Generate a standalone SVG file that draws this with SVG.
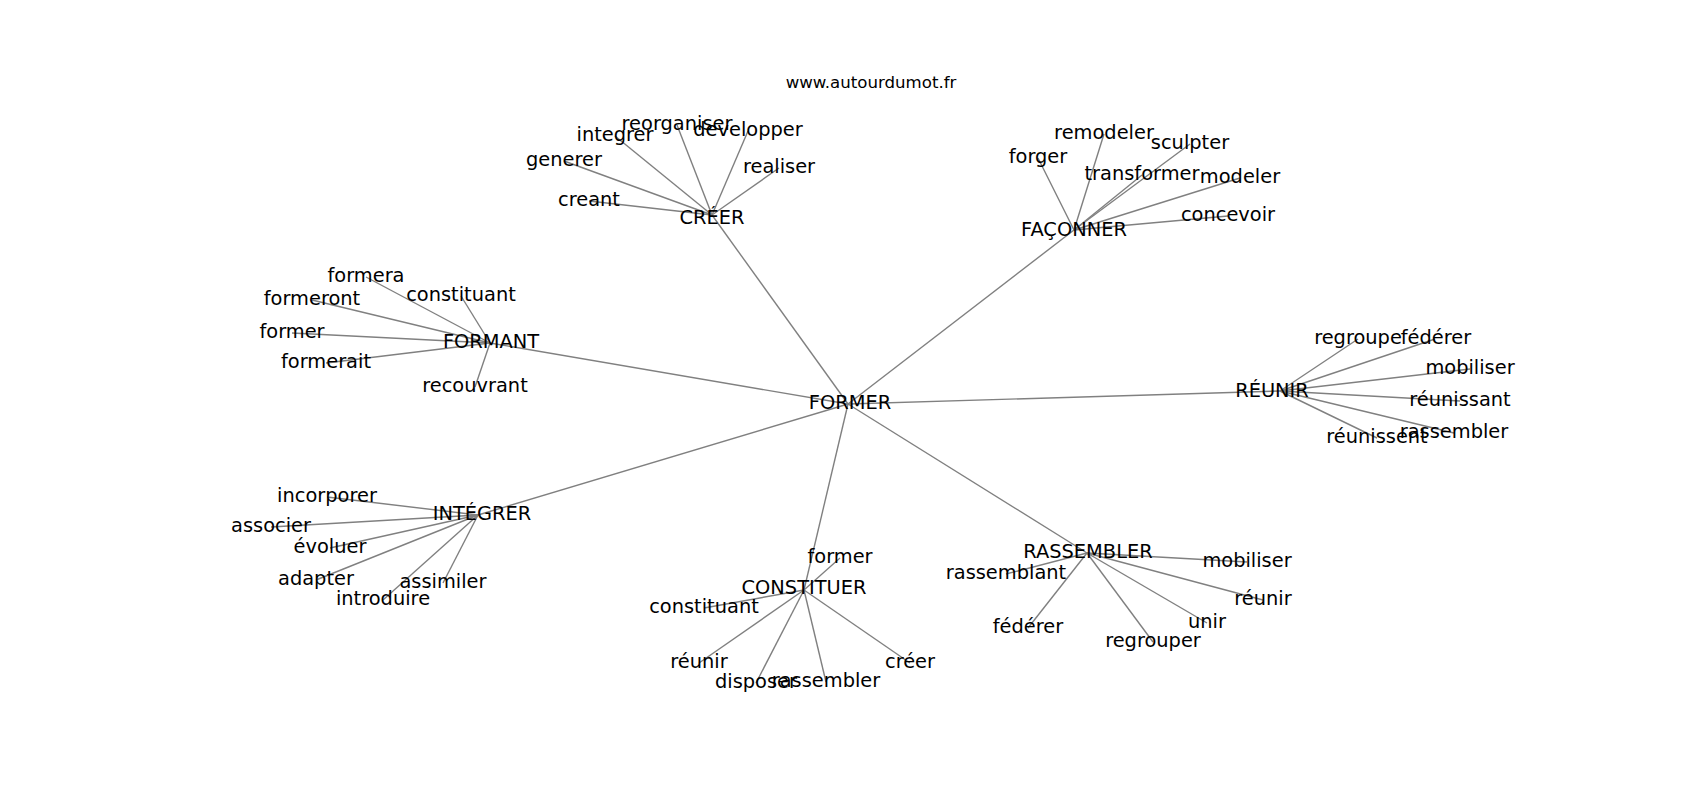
<svg xmlns="http://www.w3.org/2000/svg" width="1700" height="800" viewBox="0 0 1700 800">
<style>
text{font-family:"DejaVu Sans","Liberation Sans",sans-serif;fill:#000;text-anchor:middle}
.lbl{font-size:19.4px}
.title{font-size:16.6px}
#edges line{stroke:#808080;stroke-width:1.4}
</style>
<rect width="1700" height="800" fill="#fff"/>
<text class="title" x="871" y="88">www.autourdumot.fr</text>
<g id="edges">
<line x1="848" y1="404" x2="712" y2="215"/>
<line x1="848" y1="404" x2="1074" y2="230"/>
<line x1="848" y1="404" x2="1280" y2="391"/>
<line x1="848" y1="404" x2="490" y2="343"/>
<line x1="848" y1="404" x2="478" y2="515"/>
<line x1="848" y1="404" x2="804" y2="590"/>
<line x1="848" y1="404" x2="1087" y2="553"/>
<line x1="712" y1="215" x2="589" y2="201"/>
<line x1="712" y1="215" x2="564" y2="161"/>
<line x1="712" y1="215" x2="615" y2="136"/>
<line x1="712" y1="215" x2="677" y2="125"/>
<line x1="712" y1="215" x2="748" y2="131"/>
<line x1="712" y1="215" x2="779" y2="168"/>
<line x1="1074" y1="230" x2="1038" y2="158"/>
<line x1="1074" y1="230" x2="1104" y2="134"/>
<line x1="1074" y1="230" x2="1190" y2="144"/>
<line x1="1074" y1="230" x2="1142" y2="175"/>
<line x1="1074" y1="230" x2="1240" y2="178"/>
<line x1="1074" y1="230" x2="1228" y2="216"/>
<line x1="1280" y1="391" x2="1358" y2="339"/>
<line x1="1280" y1="391" x2="1435" y2="339"/>
<line x1="1280" y1="391" x2="1470" y2="369"/>
<line x1="1280" y1="391" x2="1460" y2="401"/>
<line x1="1280" y1="391" x2="1454" y2="433"/>
<line x1="1280" y1="391" x2="1377" y2="438"/>
<line x1="490" y1="343" x2="366" y2="277"/>
<line x1="490" y1="343" x2="461" y2="296"/>
<line x1="490" y1="343" x2="312" y2="300"/>
<line x1="490" y1="343" x2="292" y2="333"/>
<line x1="490" y1="343" x2="326" y2="363"/>
<line x1="490" y1="343" x2="475" y2="387"/>
<line x1="478" y1="515" x2="327" y2="497"/>
<line x1="478" y1="515" x2="271" y2="527"/>
<line x1="478" y1="515" x2="330" y2="548"/>
<line x1="478" y1="515" x2="316" y2="580"/>
<line x1="478" y1="515" x2="443" y2="583"/>
<line x1="478" y1="515" x2="383" y2="600"/>
<line x1="804" y1="590" x2="840" y2="558"/>
<line x1="804" y1="590" x2="704" y2="608"/>
<line x1="804" y1="590" x2="699" y2="663"/>
<line x1="804" y1="590" x2="756" y2="683"/>
<line x1="804" y1="590" x2="826" y2="682"/>
<line x1="804" y1="590" x2="910" y2="663"/>
<line x1="1087" y1="553" x2="1006" y2="574"/>
<line x1="1087" y1="553" x2="1247" y2="562"/>
<line x1="1087" y1="553" x2="1263" y2="600"/>
<line x1="1087" y1="553" x2="1207" y2="623"/>
<line x1="1087" y1="553" x2="1153" y2="642"/>
<line x1="1087" y1="553" x2="1028" y2="628"/>
</g>
<g id="n-former"><text class="lbl" x="850" y="408.5">FORMER</text></g>
<g id="n-creer"><text class="lbl" x="712" y="224">CRÉER</text></g>
<g id="n-faconner"><text class="lbl" x="1074" y="235.5">FAÇONNER</text></g>
<g id="n-reunir"><text class="lbl" x="1272" y="397">RÉUNIR</text></g>
<g id="n-formant"><text class="lbl" x="491" y="348">FORMANT</text></g>
<g id="n-integrer"><text class="lbl" x="482" y="520">INTÉGRER</text></g>
<g id="n-constituer"><text class="lbl" x="804" y="594">CONSTITUER</text></g>
<g id="n-rassembler"><text class="lbl" x="1088" y="558">RASSEMBLER</text></g>
<g id="n-creer-creant"><text class="lbl" x="589" y="206">creant</text></g>
<g id="n-creer-generer"><text class="lbl" x="564" y="166">generer</text></g>
<g id="n-creer-integrer"><text class="lbl" x="615" y="141">integrer</text></g>
<g id="n-creer-reorganiser"><text class="lbl" x="677" y="130">reorganiser</text></g>
<g id="n-creer-developper"><text class="lbl" x="748" y="136">developper</text></g>
<g id="n-creer-realiser"><text class="lbl" x="779" y="173">realiser</text></g>
<g id="n-fac-forger"><text class="lbl" x="1038" y="163">forger</text></g>
<g id="n-fac-remodeler"><text class="lbl" x="1104" y="139">remodeler</text></g>
<g id="n-fac-sculpter"><text class="lbl" x="1190" y="149">sculpter</text></g>
<g id="n-fac-transformer"><text class="lbl" x="1142" y="180">transformer</text></g>
<g id="n-fac-modeler"><text class="lbl" x="1240" y="183">modeler</text></g>
<g id="n-fac-concevoir"><text class="lbl" x="1228" y="221">concevoir</text></g>
<g id="n-reu-regroupe"><text class="lbl" x="1358" y="344">regroupe</text></g>
<g id="n-reu-federer"><text class="lbl" x="1436" y="344">fédérer</text></g>
<g id="n-reu-mobiliser"><text class="lbl" x="1470" y="374">mobiliser</text></g>
<g id="n-reu-reunissant"><text class="lbl" x="1460" y="406">réunissant</text></g>
<g id="n-reu-rassembler"><text class="lbl" x="1454" y="438">rassembler</text></g>
<g id="n-reu-reunissent"><text class="lbl" x="1377" y="443">réunissent</text></g>
<g id="n-fmt-formera"><text class="lbl" x="366" y="282">formera</text></g>
<g id="n-fmt-constituant"><text class="lbl" x="461" y="301">constituant</text></g>
<g id="n-fmt-formeront"><text class="lbl" x="312" y="305">formeront</text></g>
<g id="n-fmt-former"><text class="lbl" x="292" y="338">former</text></g>
<g id="n-fmt-formerait"><text class="lbl" x="326" y="368">formerait</text></g>
<g id="n-fmt-recouvrant"><text class="lbl" x="475" y="392">recouvrant</text></g>
<g id="n-int-incorporer"><text class="lbl" x="327" y="502">incorporer</text></g>
<g id="n-int-associer"><text class="lbl" x="271" y="532">associer</text></g>
<g id="n-int-evoluer"><text class="lbl" x="330" y="553">évoluer</text></g>
<g id="n-int-adapter"><text class="lbl" x="316" y="585">adapter</text></g>
<g id="n-int-assimiler"><text class="lbl" x="443" y="588">assimiler</text></g>
<g id="n-int-introduire"><text class="lbl" x="383" y="605">introduire</text></g>
<g id="n-con-former"><text class="lbl" x="840" y="563">former</text></g>
<g id="n-con-constituant"><text class="lbl" x="704" y="613">constituant</text></g>
<g id="n-con-reunir"><text class="lbl" x="699" y="668">réunir</text></g>
<g id="n-con-disposer"><text class="lbl" x="756" y="688">disposer</text></g>
<g id="n-con-rassembler"><text class="lbl" x="826" y="687">rassembler</text></g>
<g id="n-con-creer"><text class="lbl" x="910" y="668">créer</text></g>
<g id="n-ras-rassemblant"><text class="lbl" x="1006" y="579">rassemblant</text></g>
<g id="n-ras-mobiliser"><text class="lbl" x="1247" y="567">mobiliser</text></g>
<g id="n-ras-reunir"><text class="lbl" x="1263" y="605">réunir</text></g>
<g id="n-ras-unir"><text class="lbl" x="1207" y="628">unir</text></g>
<g id="n-ras-regrouper"><text class="lbl" x="1153" y="647">regrouper</text></g>
<g id="n-ras-federer"><text class="lbl" x="1028" y="633">fédérer</text></g>
</svg>
